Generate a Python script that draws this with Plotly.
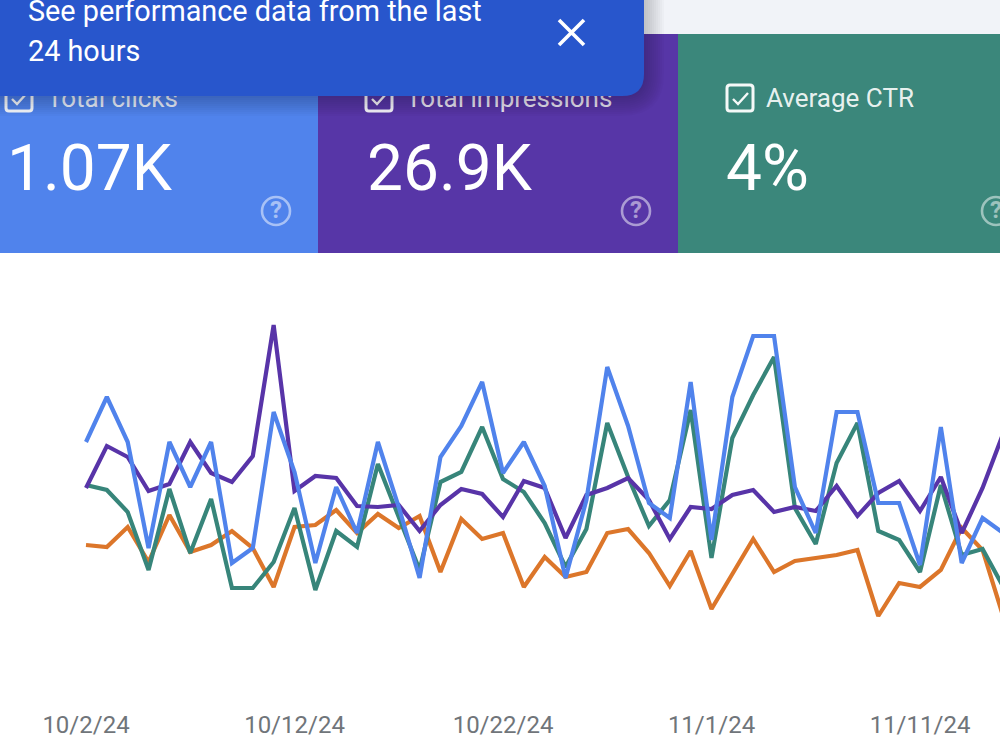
import pandas as pd
import plotly.graph_objects as go

# Daily readings on a shared 0-440 display scale
start_date = "2024-10-02"
clicks = [258, 303, 258, 152, 258, 213, 258, 137, 152, 288, 228, 137, 213, 167, 258,
          193, 122, 243, 274, 318, 227, 258, 214, 122, 200, 333, 274, 197, 182, 318,
          160, 303, 364, 364, 213, 167, 288, 288, 197, 197, 135, 273, 137, 182, 167]
impressions = [212, 254, 243, 209, 216, 258, 227, 218, 244, 375, 209, 224, 222, 194, 193,
               195, 169, 195, 211, 206, 183, 219, 212, 162, 205, 212, 222, 200, 161, 193,
               191, 205, 210, 188, 193, 189, 214, 184, 207, 219, 189, 223, 167, 212, 267]
ctr = [215, 210, 188, 130, 211, 147, 201, 112, 112, 138, 192, 110, 169, 153, 236,
       183, 130, 218, 228, 273, 221, 208, 177, 133, 171, 277, 223, 174, 200, 290,
       142, 262, 305, 343, 192, 156, 237, 277, 169, 160, 128, 215, 145, 151, 113]
position = [155, 153, 173, 138, 185, 148, 155, 169, 152, 113, 173, 175, 190, 167, 186,
            172, 184, 128, 181, 161, 167, 113, 143, 123, 128, 167, 171, 147, 114, 149,
            91, 126, 161, 128, 139, 142, 145, 150, 84, 117, 113, 130, 172, 150, 83]
series_colors = {"position": "#DC762A", "ctr": "#37857A",
                 "impressions": "#5834A8", "clicks": "#5083EC"}

tick_dates = ["2024-10-02", "2024-10-12", "2024-10-22", "2024-11-01", "2024-11-11"]
tick_labels = ["10/2/24", "10/12/24", "10/22/24", "11/1/24", "11/11/24"]

card_titles = ["Total clicks", "Total impressions", "Average CTR"]
card_values = ["1.07K", "26.9K", "4%"]
banner_lines = ["See performance data from the last", "24 hours"]

dates = pd.date_range(start_date, periods=len(clicks), freq="D")
first = pd.Timestamp(start_date)
x_range = [first - pd.Timedelta(days=86 / 20.85), first + pd.Timedelta(days=914 / 20.85)]

fig = go.Figure()

for name, values in [("position", position), ("ctr", ctr),
                     ("impressions", impressions), ("clicks", clicks)]:
    fig.add_trace(go.Scatter(x=dates, y=values, mode="lines", name=name,
                             line=dict(color=series_colors[name], width=4.2),
                             showlegend=False, hoverinfo="skip"))

# Summary card labels sit on a full-page overlay so the banner can cover them
card_x = [47, 406, 766]
value_x = [7, 367, 726]
fig.add_trace(go.Scatter(x=card_x, y=[100, 100, 100], text=card_titles, mode="text",
                         textposition="middle right", xaxis="x2", yaxis="y2",
                         textfont=dict(family="Roboto", size=26, color="rgba(255,255,255,0.9)"),
                         showlegend=False, hoverinfo="skip", cliponaxis=False))
fig.add_trace(go.Scatter(x=value_x, y=[174, 174, 174], text=card_values, mode="text",
                         textposition="middle right", xaxis="x2", yaxis="y2",
                         textfont=dict(family="Roboto", size=64, color="white"),
                         showlegend=False, hoverinfo="skip", cliponaxis=False))
help_x = [276, 636, 996]
fig.add_trace(go.Scatter(x=help_x, y=[212, 212, 212], text=["?", "?", "?"], mode="text",
                         textposition="middle center", xaxis="x2", yaxis="y2",
                         textfont=dict(family="Roboto", size=24, weight=700, color="rgba(255,255,255,0.5)"),
                         showlegend=False, hoverinfo="skip", cliponaxis=False))


def page_shape(path, layer="below", **style):
    return dict(type="path", path=path, xref="x2", yref="y2", layer=layer, **style)


def box(x0, y0, x1, y1):
    return f"M{x0},{y0} H{x1} V{y1} H{x0} Z"


def rounded_box(x0, y0, x1, y1, r):
    return (f"M{x0 + r},{y0} H{x1 - r} Q{x1},{y0} {x1},{y0 + r} V{y1 - r} "
            f"Q{x1},{y1} {x1 - r},{y1} H{x0 + r} Q{x0},{y1} {x0},{y1 - r} "
            f"V{y0 + r} Q{x0},{y0} {x0 + r},{y0} Z")


shapes = [
    page_shape(box(0, 0, 1000, 34), fillcolor="#F1F3F8", line_width=0),
    page_shape(box(0, 34, 318, 253), fillcolor="#5083EC", line_width=0),
    page_shape(box(318, 34, 678, 253), fillcolor="#5736A7", line_width=0),
    page_shape(box(678, 34, 1000, 253), fillcolor="#3B877B", line_width=0),
]

for left in [6, 366, 727]:
    shapes.append(page_shape(rounded_box(left, 85, left + 26, 111, 3),
                             line=dict(color="rgba(255,255,255,0.95)", width=3)))
    shapes.append(page_shape(f"M{left + 6},{99} L{left + 11},{104} L{left + 21},{93}",
                             line=dict(color="rgba(255,255,255,0.95)", width=2.4)))

for cx in help_x:
    shapes.append(dict(type="circle", xref="x2", yref="y2", layer="below",
                       x0=cx - 14, x1=cx + 14, y0=197, y1=225,
                       line=dict(color="rgba(255,255,255,0.5)", width=2.6)))

# Soft shadow under the banner, built from stacked translucent outlines
for grow in range(20, 0, -2):
    shapes.append(page_shape(rounded_box(-40, -40, 644 + grow, 96 + grow, 22 + grow), layer="above",
                             fillcolor="rgba(0,0,0,0.018)", line_width=0))
shapes.append(page_shape(rounded_box(-40, -40, 644, 96, 22), layer="above",
                         fillcolor="#2856CC", line_width=0))
shapes.append(page_shape("M559,20 L584,45 M584,20 L559,45", layer="above",
                         line=dict(color="white", width=3.6)))

annotations = [
    dict(x=26, y=11, xref="x2", yref="y2", text=banner_lines[0], showarrow=False, xanchor="left",
         yanchor="middle", font=dict(family="Roboto", size=28.8, color="white")),
    dict(x=26, y=51, xref="x2", yref="y2", text=banner_lines[1], showarrow=False, xanchor="left",
         yanchor="middle", font=dict(family="Roboto", size=28.8, color="white")),
]

fig.update_layout(
    width=1000, height=750, autosize=False,
    margin=dict(l=0, r=0, t=0, b=0),
    paper_bgcolor="white", plot_bgcolor="rgba(0,0,0,0)",
    shapes=shapes, annotations=annotations,
    xaxis=dict(range=x_range, type="date", domain=[0, 1], anchor="y",
               tickmode="array", tickvals=tick_dates, ticktext=tick_labels,
               showgrid=False, zeroline=False, showline=False, ticks="",
               ticklabelstandoff=8,
               tickfont=dict(family="Roboto", size=24, color="#70757A")),
    yaxis=dict(range=[0, 440], domain=[50 / 750, 490 / 750], visible=False, fixedrange=True),
    xaxis2=dict(range=[0, 1000], domain=[0, 1], anchor="y2", visible=False),
    yaxis2=dict(range=[750, 0], domain=[0, 1], anchor="x2", visible=False),
)

fig.write_html("out.html", config=dict(displayModeBar=False))
